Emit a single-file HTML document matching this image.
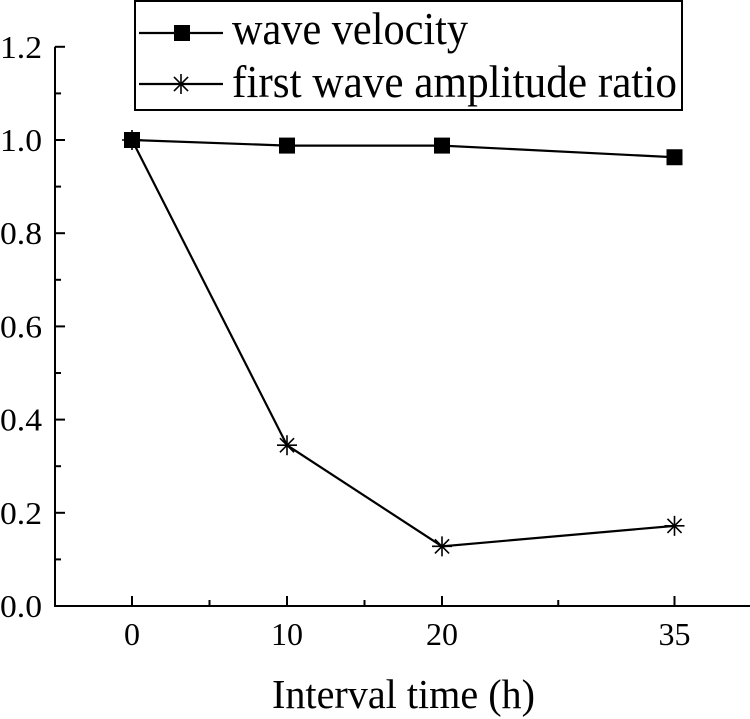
<!DOCTYPE html>
<html><head><meta charset="utf-8"><style>
html,body{margin:0;padding:0;background:#fff;}
svg{display:block;font-family:"Liberation Serif",serif;}
</style></head><body>
<svg id="chart" width="750" height="719" viewBox="0 0 750 719"></svg>
<script>
const categories = [0, 10, 20, 35];
const catPos = [0, 1, 2, 3.5];
const velocity = [1.0, 0.988, 0.988, 0.963];
const amplitude = [1.0, 0.345, 0.128, 0.172];
const yTicks = [0.0, 0.2, 0.4, 0.6, 0.8, 1.0, 1.2];
const yTickLabels = ["0.0","0.2","0.4","0.6","0.8","1.0","1.2"];

const NS = "http://www.w3.org/2000/svg";
const svg = document.getElementById("chart");
const X0 = 132, XS = 155, Y0 = 606, YS = 466;
const xp = p => X0 + p * XS;
const yp = v => Y0 - v * YS;
function el(tag, attrs, parent) {
  const e = document.createElementNS(NS, tag);
  for (const k in attrs) e.setAttribute(k, attrs[k]);
  (parent || svg).appendChild(e);
  return e;
}
const ya = el("line", {x1:55, y1:yp(1.2), x2:55, y2:Y0+1, stroke:"#000", "stroke-width":2});


const xa = el("line", {x1:54, y1:Y0, x2:750, y2:Y0, stroke:"#000", "stroke-width":2});


yTicks.forEach((v, i) => {
  el("line", {x1:55, y1:yp(v), x2:65, y2:yp(v), stroke:"#000", "stroke-width":2});
  if (i < yTicks.length - 1) el("line", {x1:55, y1:yp(v+0.1), x2:61, y2:yp(v+0.1), stroke:"#000", "stroke-width":2});
  const t = el("text", {x:0, y:yp(v)+11, "font-size":32, textLength:42, lengthAdjust:"spacingAndGlyphs"});
  t.textContent = yTickLabels[i];
  
  
});
catPos.forEach((p, i) => {
  el("line", {x1:xp(p), y1:Y0, x2:xp(p), y2:Y0-10, stroke:"#000", "stroke-width":2});
  if (i < catPos.length - 1) {
    const m = (p + catPos[i+1]) / 2;
    el("line", {x1:xp(m), y1:Y0, x2:xp(m), y2:Y0-6, stroke:"#000", "stroke-width":2});
  }
  const t = el("text", {x:xp(p), y:645, "font-size":32, "text-anchor":"middle"});
  t.textContent = categories[i];
  
  
});
const xt = el("text", {x:272, y:708, "font-size":41, textLength:263, lengthAdjust:"spacingAndGlyphs"});
xt.textContent = "Interval time (h)";



function star(cx, cy, r, parent) {
  const g = el("g", {stroke:"#000", "stroke-width":1.6}, parent);
  for (let a = 0; a < 180; a += 45) {
    const rad = a * Math.PI / 180;
    el("line", {x1:cx - r*Math.cos(rad), y1:cy - r*Math.sin(rad), x2:cx + r*Math.cos(rad), y2:cy + r*Math.sin(rad)}, g);
  }
  return g;
}
const ampPts = catPos.map((p, i) => xp(p) + "," + yp(amplitude[i])).join(" ");
const al = el("polyline", {points:ampPts, fill:"none", stroke:"#000", "stroke-width":2.2});


catPos.forEach((p, i) => {
  const s = star(xp(p), yp(amplitude[i]), 10);
  
  
});
const velPts = catPos.map((p, i) => xp(p) + "," + yp(velocity[i])).join(" ");
const vl = el("polyline", {points:velPts, fill:"none", stroke:"#000", "stroke-width":2.2});


catPos.forEach((p, i) => {
  const r = el("rect", {x:xp(p)-8, y:yp(velocity[i])-8, width:16, height:16, fill:"#000"});
  
  
});
const lg = el("g", {});


el("rect", {x:135, y:1, width:547, height:109, fill:"#fff", stroke:"#000", "stroke-width":2}, lg);
el("line", {x1:139, y1:33, x2:223, y2:33, stroke:"#000", "stroke-width":2.2}, lg);
el("rect", {x:174, y:25, width:16, height:16, fill:"#000"}, lg);
const t1 = el("text", {x:232, y:44, "font-size":46, textLength:236, lengthAdjust:"spacingAndGlyphs"}, lg);
t1.textContent = "wave velocity";


el("line", {x1:139, y1:84, x2:223, y2:84, stroke:"#000", "stroke-width":2.2}, lg);
star(181, 84, 10, lg);
const t2 = el("text", {x:232, y:97, "font-size":46, textLength:445, lengthAdjust:"spacingAndGlyphs"}, lg);
t2.textContent = "first wave amplitude ratio";


</script>
</body></html>
